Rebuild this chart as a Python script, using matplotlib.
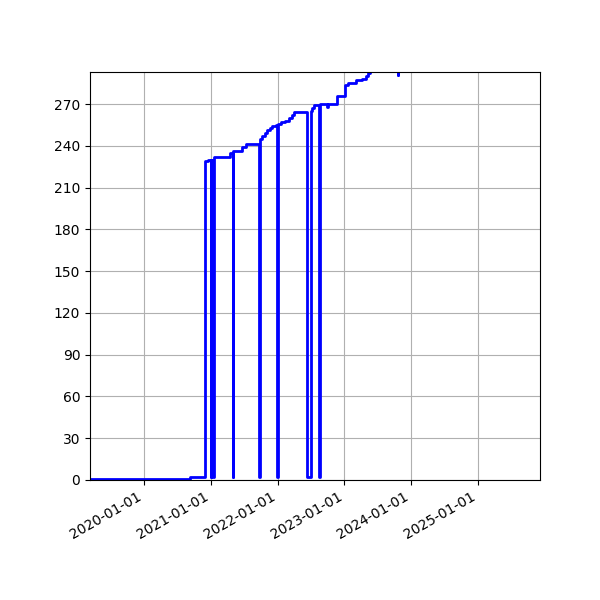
import matplotlib
matplotlib.use("Agg")
import matplotlib.pyplot as plt
import matplotlib.dates as mdates
import matplotlib.ticker as mticker
import pandas as pd

# datas e contagem acumulada
datas = [
    "2019-03-12", "2020-09-08", "2020-12-02", "2020-12-18",
    "2020-12-31", "2021-01-04", "2021-01-15", "2021-01-19",
    "2021-04-13", "2021-04-30", "2021-05-04", "2021-06-23",
    "2021-07-14", "2021-09-22", "2021-09-25", "2021-10-07",
    "2021-10-23", "2021-11-06", "2021-11-20", "2021-12-01",
    "2021-12-23", "2021-12-30", "2022-01-02", "2022-01-19",
    "2022-02-10", "2022-03-04", "2022-03-20", "2022-03-31",
    "2022-06-09", "2022-07-01", "2022-07-08", "2022-07-21",
    "2022-08-16", "2022-08-19", "2022-09-26", "2022-10-03",
    "2022-11-20", "2023-01-04", "2023-01-21", "2023-03-06",
    "2023-04-07", "2023-04-29", "2023-05-13", "2023-05-21",
    "2023-10-22", "2023-10-24", "2024-06-01", "2025-12-06",
]
contagem = [
    1, 2, 229, 230,
    2, 230, 2, 232,
    235, 2, 236, 239,
    241, 2, 245, 247,
    249, 251, 253, 254,
    255, 2, 256, 257,
    258, 260, 262, 264,
    2, 265, 267, 269,
    2, 270, 268, 270,
    276, 284, 285, 287,
    288, 290, 292, 296,
    291, 300, 310, 320,
]

x = pd.to_datetime(datas)

fig = plt.figure(figsize=(6, 6), dpi=100)
ax = fig.add_subplot(111)
ax.step(x, contagem, where="post", color="b", linewidth=2)

ax.set_xlim(pd.Timestamp("2019-03-12"), pd.Timestamp("2025-12-06"))
ax.set_ylim(0, 293)
ax.yaxis.set_major_locator(mticker.MultipleLocator(30))
ax.xaxis.set_major_locator(mdates.YearLocator())
ax.xaxis.set_major_formatter(mdates.DateFormatter("%Y-%m-%d"))
ax.grid(True)
fig.autofmt_xdate()
fig.subplots_adjust(left=0.15, right=0.9, top=0.88, bottom=0.2)

fig.savefig("out.png")
